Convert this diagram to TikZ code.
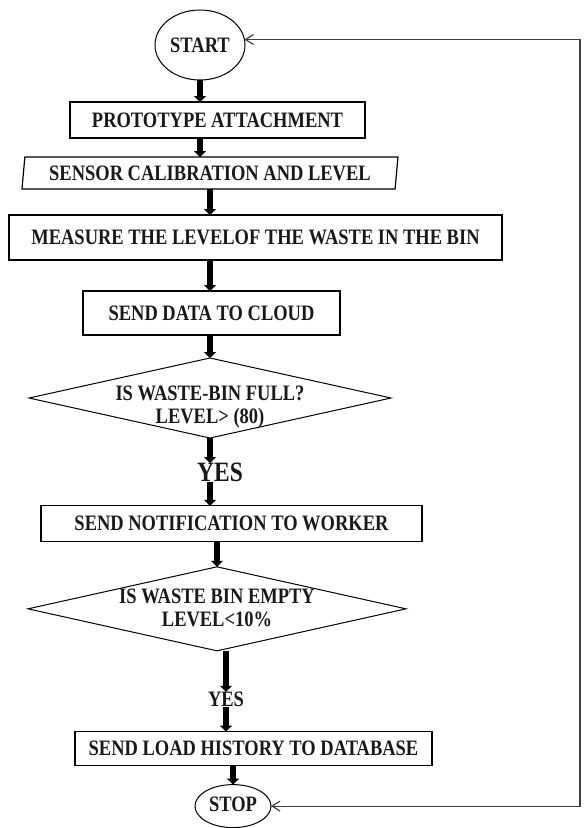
\documentclass[tikz,border=0pt]{standalone}
\usepackage{fontspec}
\setmainfont{Liberation Serif}[FakeStretch=0.84]
\usetikzlibrary{positioning,shapes.geometric,arrows.meta}

\begin{document}
\begin{tikzpicture}[node distance=24pt,
    every node/.style={font=\fontsize{22}{23}\selectfont\bfseries, text=black!90, outer sep=0pt},
    process/.style={rectangle, draw, line width=1.2pt, inner sep=0pt},
    terminal/.style={ellipse, draw, line width=1pt, inner sep=0pt},
    io/.style={trapezium, trapezium left angle=79, trapezium right angle=101, trapezium stretches body, draw, line width=1.2pt, inner sep=0pt},
    decision/.style={diamond, aspect=4.5, draw, line width=1pt, inner sep=0pt},
    flow/.style={line width=6pt, -{Triangle[length=6pt,width=12pt]}},
    loopback/.style={line width=1.2pt, draw=black!75, {Straight Barb[length=8pt,width=10pt]}-{Straight Barb[length=8pt,width=10pt]}}]
            \useasboundingbox (-200pt,45pt) rectangle (387pt,-783pt);

            % Define blocks
            \node (start) [terminal, minimum width=90pt, minimum height=70pt] {START};
            \node (proto) [process, below=22pt of start, xshift=17.5pt, minimum width=295pt, minimum height=36pt] {PROTOTYPE ATTACHMENT};
            \node (sensor) [io, below=19pt of proto, xshift=-7.5pt, minimum width=376pt, minimum height=32pt] {SENSOR CALIBRATION AND LEVEL};
            \node (measure) [process, below=26pt of sensor, xshift=45.5pt, minimum width=493pt, minimum height=45pt] {MEASURE THE LEVELOF THE WASTE IN THE BIN};
            \node (cloud) [process, below=31pt of measure, xshift=-44pt, minimum width=257pt, minimum height=44pt] {SEND DATA TO CLOUD};
            \node (full) [decision, below=23pt of cloud, xshift=-1.5pt, minimum width=362pt, minimum height=80pt] {\smash{\raisebox{-15pt}{\begin{tabular}{@{}c@{}}IS WASTE-BIN FULL?\\LEVEL> (80)\end{tabular}}}};
            \node (yes1) [below=25pt of full, xshift=10pt, inner sep=0pt, font=\fontsize{28}{30}\selectfont\bfseries] {YES};
            \node (notify) [process, below=24pt of yes1, xshift=11.5pt, minimum width=381pt, minimum height=36pt] {SEND NOTIFICATION TO WORKER};
            \node (empty) [decision, below=25pt of notify, xshift=-14.5pt, minimum width=378pt, minimum height=84pt] {\smash{\raisebox{-7pt}{\begin{tabular}{@{}c@{}}IS WASTE BIN EMPTY\\LEVEL<10\%\end{tabular}}}};
            \node (yes2) [below=41pt of empty, xshift=9pt, inner sep=0pt] {YES};
            \node (history) [process, below=25pt of yes2, xshift=27.5pt, minimum width=357pt, minimum height=34pt] {SEND LOAD HISTORY TO DATABASE};
            \node (stop) [terminal, below=19pt of history, xshift=-20.5pt, minimum width=76pt, minimum height=43pt] {\raisebox{3pt}{STOP}};

            % Draw arrows
            \draw[flow] (start.south) -- (start.south |- proto.north);
            \draw[flow] (start.south |- proto.south) -- (start.south |- sensor.north);
            \draw[flow] (sensor.south) -- (sensor.south |- measure.north);
            \draw[flow] (full.north |- measure.south) -- (full.north |- cloud.north);
            \draw[flow] (full.north |- cloud.south) -- (full.north);
            \draw[flow] (full.south) -- (full.south |- yes1.north);
            \draw[flow] (full.south |- yes1.south) -- (full.south |- notify.north);
            \draw[flow] (empty.north |- notify.south) -- (empty.north);
            \draw[flow] (yes2.north |- empty.south) -- (yes2.north);
            \draw[flow] (yes2.south) -- (yes2.south |- history.north);
            \draw[flow] (stop.north |- history.south) -- (stop.north);

            % Loop back to the start
            \coordinate (back) at (380pt,0);
            \draw[loopback] (stop.east) -| (back) |- (start.7);
        \end{tikzpicture}
\end{document}
